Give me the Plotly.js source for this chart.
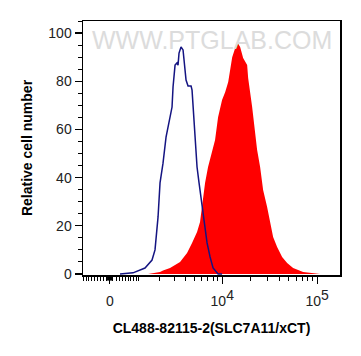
<!DOCTYPE html>
<html>
<head>
<meta charset="utf-8">
<script src="https://cdn.plot.ly/plotly-3.0.1.min.js"></script>
<style>html,body{margin:0;padding:0;background:#fff;}#chart{width:361px;height:356px;}</style>
</head>
<body>
<div id="chart"></div>
<script>
// Fluorescence intensity (raw) and relative cell number
const controlX = [328, 781, 1265, 1596, 1750, 1916, 2030, 2211, 2405, 2682, 2831, 2907, 3066, 3230, 3315, 3403, 3584, 3774, 3872, 4075, 4287, 4626, 4744, 4863, 5113, 5242, 5375, 5650, 6087, 6559, 6890, 7419, 7989, 9029, 9956];
const controlY = [0, 0.5, 2.5, 5.8, 10, 23.7, 37.8, 46, 56.8, 65, 69.3, 77.6, 86.7, 87.6, 86.7, 91.7, 94.2, 93, 87.6, 80.5, 78, 78, 76.3, 69.3, 56.8, 51.5, 44.4, 37.8, 27.8, 18.3, 12.9, 7.1, 2.5, 0, 0];

const sampleX = [1402, 2030, 2211, 2682, 3493, 4180, 4744, 5375, 5792, 6241, 6559, 7061, 7792, 8388, 9029, 9956, 10755, 11566, 12745, 13706, 14384, 15470, 16636, 18336, 18785, 20700, 22255, 23360, 25119, 27014, 29763, 32010, 34423, 37930, 42820, 48330, 55900, 71220, 90780, 107550];
const sampleY = [0, 0.8, 1.5, 2.5, 5, 8.7, 12.9, 17.4, 21.6, 30.7, 37.8, 44.4, 51.5, 55.6, 65.1, 72.2, 75.5, 79.7, 90, 94.2, 96.3, 94.2, 89.6, 86.7, 81.3, 69.3, 56.8, 51.5, 44.4, 34.9, 27.8, 21.6, 15.4, 11.2, 7.1, 4.6, 2.5, 0.8, 0.4, 0];

const majorTickValues = [0, 10000, 100000];
const majorTickLabels = ['0', '10<sup><span style="font-size:14px">4</span></sup>', '10<sup><span style="font-size:14px">5</span></sup>'];
const minorTickValues = [-900,-800,-700,-600,-500,-400,-300,-200,-100,100,200,300,400,500,600,700,800,900,
  1000,2000,3000,4000,5000,6000,7000,8000,9000,
  20000,30000,40000,50000,60000,70000,80000,90000];

const xTitle = 'CL488-82115-2(SLC7A11/xCT)';
const yTitle = 'Relative cell number';
const watermark = 'WWW.PTGLAB.COM';

// biexponential-like display transform (decades)
const C = 660;
function disp(v) { return Math.log10((v + Math.sqrt(v * v + 4 * C * C)) / 2); }

const traces = [
  {
    x: sampleX.map(disp), y: sampleY, type: 'scatter', mode: 'lines',
    fill: 'tozeroy', fillcolor: '#ff0000', line: {width: 0, color: '#ff0000'},
    hoverinfo: 'skip', showlegend: false
  },
  {
    x: controlX.map(disp), y: controlY, type: 'scatter', mode: 'lines',
    line: {width: 1.5, color: '#141482'},
    hoverinfo: 'skip', showlegend: false
  }
];

const fontFam = 'Liberation Sans, Arial, sans-serif';

const layout = {
  width: 361, height: 356,
  margin: {l: 83, r: 21, t: 21, b: 81},
  paper_bgcolor: '#fff', plot_bgcolor: '#fff',
  showlegend: false,
  xaxis: {
    range: [disp(-920), disp(174000)],
    tickmode: 'array',
    tickvals: majorTickValues.map(disp),
    ticktext: majorTickLabels,
    ticks: 'outside', ticklen: 7, tickwidth: 1.2, tickcolor: '#000',
    minor: {tickmode: 'array', tickvals: minorTickValues.map(disp), ticks: 'outside', ticklen: 4, tickwidth: 1, tickcolor: '#000', showgrid: false},
    showline: true, mirror: true, linecolor: '#000', linewidth: 1.5,
    showgrid: false, zeroline: false,
    tickfont: {family: fontFam, size: 14, color: '#222'},
    ticklabelstandoff: 6,
    title: {text: xTitle, font: {family: fontFam, size: 14, color: '#000', weight: 'bold'}, standoff: 15}
  },
  yaxis: {
    range: [-0.4, 105],
    tickmode: 'array', tickvals: [0, 20, 40, 60, 80, 100],
    ticks: 'outside', ticklen: 7, tickwidth: 1.2, tickcolor: '#000',
    minor: {dtick: 5, tick0: 0, ticks: 'outside', ticklen: 4, tickwidth: 1, tickcolor: '#000', showgrid: false},
    showline: true, mirror: true, linecolor: '#000', linewidth: 1.5,
    showgrid: false, zeroline: false,
    tickfont: {family: fontFam, size: 14, color: '#222'},
    title: {text: yTitle, font: {family: fontFam, size: 14, color: '#000', weight: 'bold'}, standoff: 12}
  },
  shapes: [
    {type: 'rect', xref: 'x', yref: 'paper', x0: disp(-90), x1: disp(90), y0: -0.022, y1: 0, fillcolor: '#000', line: {width: 0}}
  ],
  annotations: [
    {text: watermark, xref: 'paper', yref: 'paper', x: 0.5, y: 0.925, xanchor: 'center', yanchor: 'middle', showarrow: false,
     font: {family: fontFam, size: 25, color: '#dcdcdc'}}
  ]
};

Plotly.newPlot('chart', traces, layout, {displayModeBar: false, staticPlot: true});
</script>
</body>
</html>
